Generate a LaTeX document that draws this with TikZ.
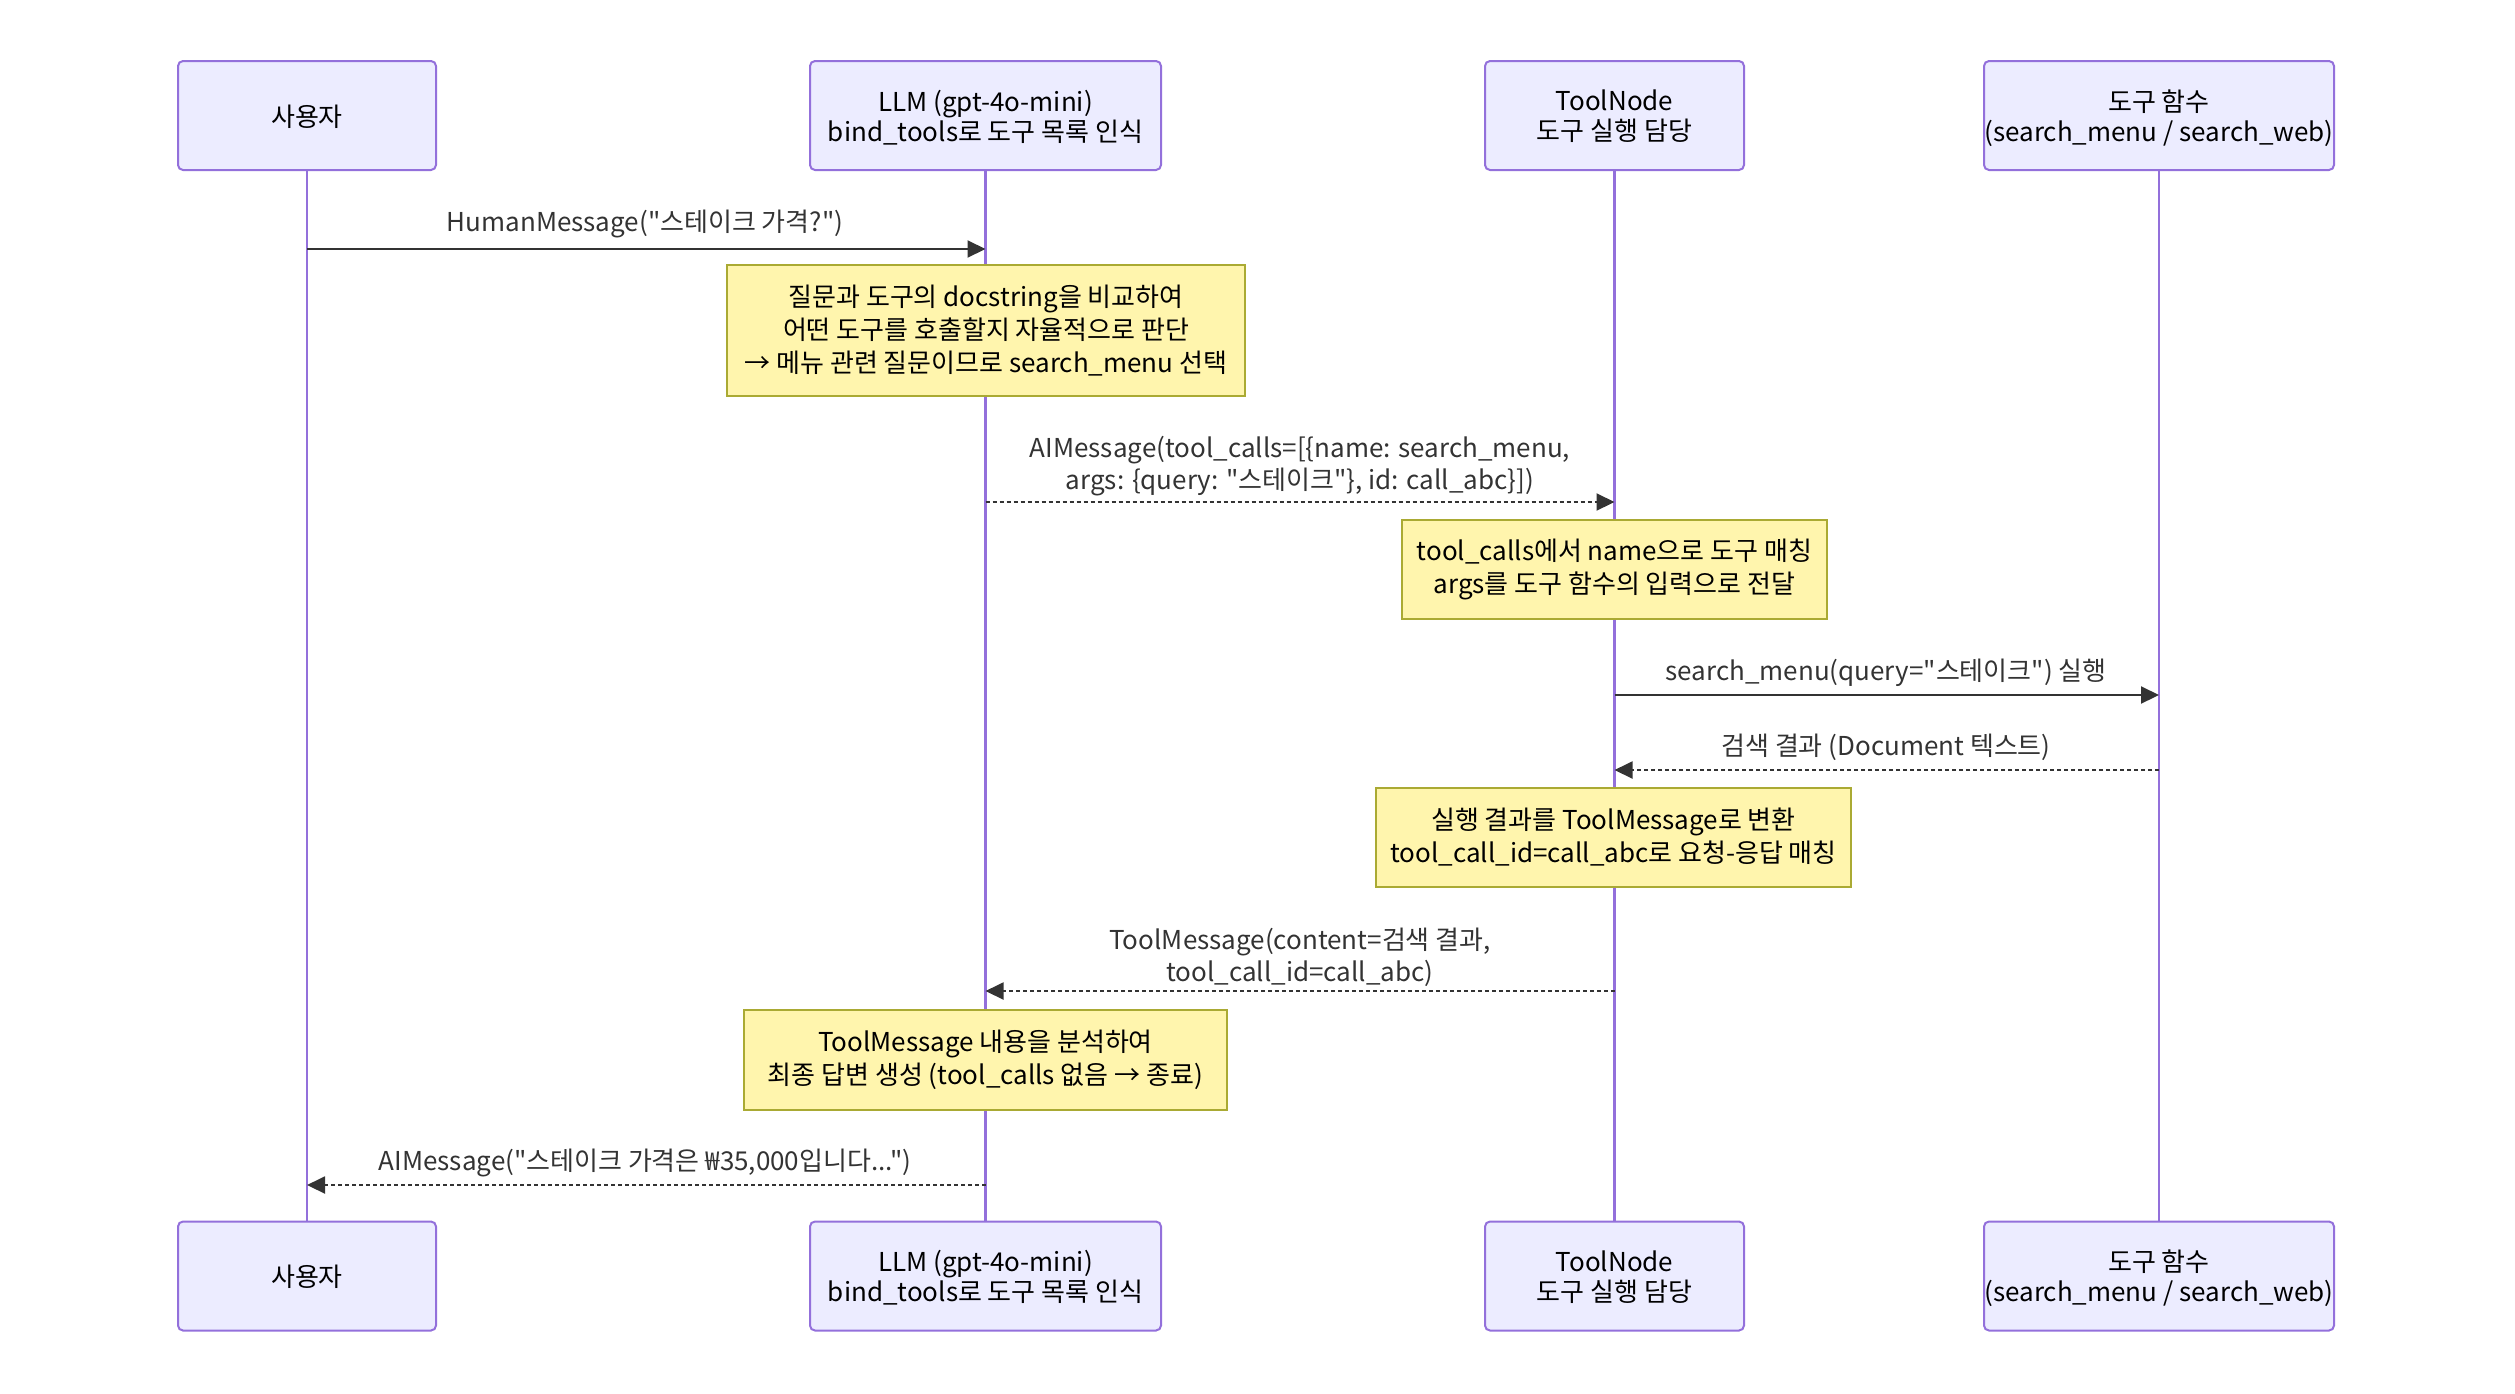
\documentclass[tikz,border=0pt]{standalone}
\usepackage{fontspec}
\setmainfont{Noto Sans CJK KR}[Ligatures=TeXOff]
\usetikzlibrary{arrows.meta,positioning}

\definecolor{actorfill}{HTML}{ECECFF}
\definecolor{actorline}{HTML}{9370DB}
\definecolor{notefill}{HTML}{FFF5AD}
\definecolor{noteline}{HTML}{AAAA33}
\definecolor{msgline}{HTML}{333333}

\tikzset{
  actor/.style={draw=actorline, fill=actorfill, line width=1pt, rounded corners=2.5pt,
    align=center, minimum height=54.5pt, inner sep=0pt, text depth=-3pt,
    font=\fontsize{13}{15}\selectfont},
  notebox/.style={draw=noteline, fill=notefill, line width=0.9pt, align=center,
    inner sep=0pt, font=\fontsize{13}{16.5}\selectfont},
  msg/.style={draw=msgline, line width=1pt, -{Triangle[length=9pt,width=8.5pt]}},
  reply/.style={msg, dash pattern=on 2pt off 1.5pt},
  lbl/.style={text=msgline, align=center, inner sep=0pt, font=\fontsize{13}{16}\selectfont},
  life/.style={draw=actorline, line width=1.3pt}
}

\begin{document}
\begin{tikzpicture}[x=0.5pt,y=-0.5pt]
  \useasboundingbox (0,0) rectangle (2515,1393);

  % participants, top and bottom
  \node[actor, minimum width=129pt] (user) at (307,115.5) {사용자};
  \node[actor, minimum width=175.5pt] (llm) at (985.5,115.5) {LLM (gpt-4o-mini)\\bind\_tools로 도구 목록 인식};
  \node[actor, minimum width=129.5pt] (tool) at (1614.5,115.5) {ToolNode\\도구 실행 담당};
  \node[actor, minimum width=175pt] (func) at (2159,115.5) {도구 함수\\(search\_menu / search\_web)};
  \node[actor, minimum width=129pt] (userB) at (307,1276) {사용자};
  \node[actor, minimum width=175.5pt] (llmB) at (985.5,1276) {LLM (gpt-4o-mini)\\bind\_tools로 도구 목록 인식};
  \node[actor, minimum width=129.5pt] (toolB) at (1614.5,1276) {ToolNode\\도구 실행 담당};
  \node[actor, minimum width=175pt] (funcB) at (2159,1276) {도구 함수\\(search\_menu / search\_web)};

  % lifelines
  \draw[life] (user) -- (userB);
  \draw[life] (llm) -- (llmB);
  \draw[life] (tool) -- (toolB);
  \draw[life] (func) -- (funcB);

  % notes
  \node[notebox, minimum width=259pt, minimum height=65.5pt] (n1) at (986,330.5)
    {질문과 도구의 docstring을 비교하여\\어떤 도구를 호출할지 자율적으로 판단\\→ 메뉴 관련 질문이므로 search\_menu 선택};
  \node[notebox, minimum width=212.5pt, minimum height=49.5pt] (n2) at (1614.5,569.5)
    {tool\_calls에서 name으로 도구 매칭\\args를 도구 함수의 입력으로 전달};
  \node[notebox, minimum width=237.5pt, minimum height=49.5pt] (n3) at (1613.5,837.5)
    {실행 결과를 ToolMessage로 변환\\tool\_call\_id=call\_abc로 요청-응답 매칭};
  \node[notebox, minimum width=241.5pt, minimum height=50pt] (n4) at (985.5,1060)
    {ToolMessage 내용을 분석하여\\최종 답변 생성 (tool\_calls 없음 → 종료)};

  % messages
  \draw[msg] (user |- 0,249) -- (llm |- 0,249);
  \node[lbl] (m1) at (645,224) {HumanMessage("스테이크 가격?")};

  \draw[reply] (llm |- 0,502) -- (tool |- 0,502);
  \node[lbl] (m2) at (1300,466) {AIMessage(tool\_calls=[\{name: search\_menu,\\args: \{query: "스테이크"\}, id: call\_abc\}])};

  \draw[msg] (tool |- 0,695) -- (func |- 0,695);
  \node[lbl] (m3) at (1886,673) {search\_menu(query="스테이크") 실행};

  \draw[reply] (func |- 0,770) -- (tool |- 0,770);
  \node[lbl] (m4) at (1886,747) {검색 결과 (Document 텍스트)};

  \draw[reply] (tool |- 0,991) -- (llm |- 0,991);
  \node[lbl] (m5) at (1300,957) {ToolMessage(content=검색 결과,\\tool\_call\_id=call\_abc)};

  \draw[reply] (llm |- 0,1185) -- (user |- 0,1185);
  \node[lbl] (m6) at (645,1163) {AIMessage("스테이크 가격은 ₩35,000입니다...")};
\end{tikzpicture}
\end{document}
